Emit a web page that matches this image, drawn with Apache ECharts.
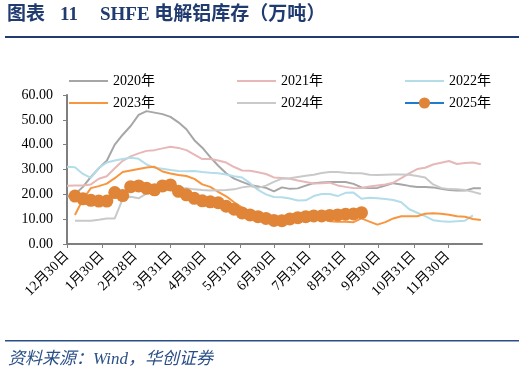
<!DOCTYPE html>
<html>
<head>
<meta charset="utf-8">
<script src="https://cdn.jsdelivr.net/npm/echarts@6/dist/echarts.min.js"></script>
<style>
  html, body { margin: 0; padding: 0; background: #fff; }
  #main { width: 524px; height: 376px; }
</style>
</head>
<body>
<div id="main"></div>
<script>
// x轴刻度（距12月30日的天数）
var tickDays = [0, 31, 60, 91, 121, 152, 182, 213, 244, 274, 305, 335];
var tickLabels = ["12月30日", "1月30日", "2月28日", "3月31日", "4月30日", "5月31日",
  "6月30日", "7月31日", "8月31日", "9月30日", "10月31日", "11月30日"];
var yTicks = [0, 10, 20, 30, 40, 50, 60];

// 周度数据，第i个点位于第 7*i 天
var y2020 = [19, 20, 23, 27, 30.5, 33.5, 40, 44, 47.5, 52, 53.5, 52.9, 52.3, 51.2, 49, 46.2, 41.8, 38.8, 35, 31.5,
  28.5, 26.3, 25, 23.8, 23.2, 22.6, 21.2, 22.8, 22.2, 22.4, 23.5, 24.5, 24.8, 25, 25, 25, 24.2, 22.8, 22.5, 22.6,
  23.5, 24.5, 24, 23.4, 23, 23, 22.8, 22.2, 21.7, 21.5, 21.5, 22.4, 22.4];
var y2021 = [23.5, 23.6, 23.6, 24, 26.3, 27.3, 30.5, 33.5, 35.3, 36.5, 37.5, 37.8, 38.5, 39.2, 38.7, 37.8, 36, 34.2, 34.2, 33.6,
  32.8, 31, 29.6, 29.5, 28.9, 28.2, 26.8, 26.6, 26.3, 25.6, 25, 24.4, 24.5, 24.7, 23.6, 23, 22.5, 22.6, 23.2, 23.6,
  24, 24.7, 26.5, 28.4, 30.2, 30.7, 32, 32.7, 33.4, 32.2, 32.6, 32.8, 32.1];
var y2022 = [31.1, 30.9, 28.2, 26.6, 30.7, 32.8, 33.6, 34.2, 34.7, 34.3, 32, 30.7, 30.3, 29.8, 29.4, 29.3, 29.4, 29, 28.7, 28.5,
  28, 27.3, 26.8, 24.5, 21.8, 20, 18.9, 18.8, 18.3, 17.5, 17.6, 19.3, 20.1, 20.1, 19.3, 20.6, 20.7, 18.2, 18.6, 18.4,
  18.1, 17.7, 16.8, 14, 12.6, 11.2, 9.6, 9.2, 9, 9.2, 9.4, 11.5, null];
var y2023 = [null, 11.7, 18, 22.5, 23.3, 24.3, 26.5, 29, 29.6, 30.2, 30.8, 31.1, 29.2, 28.4, 27.8, 27.4, 26.2, 24, 23, 21,
  19.2, 16.8, 14.7, 12.8, 11.4, 11, 10.9, 10.8, 10.5, 10.5, 10.3, 10.4, 10.1, 9.2, 9, 9, 8.8, 10.3, 9, 7.8,
  8.8, 10.3, 11.2, 11.2, 11.2, 12.2, 12.4, 12.2, 11.8, 11.2, 11, 10.1, 9.7];
var y2024 = [null, 9.4, 9.4, 9.4, 9.8, 10.3, 10.3, 18.2, 19, 18.4, 20.4, 20.8, 21.5, 21.8, 22.3, 22.5, 22, 21.7, 21.5, 21.6,
  21.7, 22, 22.8, 23.3, 22.6, 23.5, 25, 26.3, 26.5, 27, 27.5, 27.9, 28.6, 29, 29, 28.7, 28.5, 28.5, 27.9, 27.8,
  27.9, 28, 28, 27.9, 27.4, 26.8, 24, 22.6, 22.1, 22, 21.7, 21, 20.1];
var y2025 = [null, 19.3, 18.2, 17.6, 17.3, 17.3, 20.7, 19.5, 23.1, 23.4, 22.4, 21.8, 23.4, 23.8, 21.2, 19.8, 18.4, 17.4, 17.0, 16.6,
  15.2, 14.0, 12.5, 11.7, 11.0, 10.3, 9.5, 9.4, 10.1, 10.6, 11.0, 11.3, 11.3, 11.5, 11.7, 12.0, 12.1, 12.6];

var serif = "'Times New Roman', 'Liberation Serif', 'Noto Sans CJK SC', serif";
var days = [];
for (var d = 0; d <= 365; d++) days.push(String(d));

function weekly(arr) {
  var out = [];
  for (var i = 0; i < arr.length; i++) {
    if (arr[i] !== null) out.push([7 * i, arr[i]]);
  }
  return out;
}
function isTick(idx) {
  return tickDays.indexOf(idx) >= 0;
}
function lineSeries(name, arr, color) {
  return {
    name: name,
    type: "line",
    data: weekly(arr),
    symbol: "none",
    lineStyle: { color: color, width: 2 },
    itemStyle: { color: color },
    emphasis: { disabled: true }
  };
}
// 普通折线的图例只画线，不画圆点
function lineItem(name) {
  return { name: name, itemStyle: { opacity: 0 } };
}

var myChart = echarts.init(document.getElementById("main"));
var legendBase = {
  left: 63,
  itemWidth: 39,
  itemHeight: 14,
  itemGap: 81,
  textStyle: { fontFamily: serif, fontSize: 14, color: "#000" }
};
var titleFont = "bold 19px " + serif;
var option = {
  animation: false,
  graphic: [
    { type: "text", left: 7, top: 6, style: { text: "图表", fill: "#1F3B70", font: titleFont } },
    { type: "text", left: 60, top: 6, style: { text: "11", fill: "#1F3B70", font: titleFont } },
    { type: "text", left: 100, top: 6, style: { text: "SHFE 电解铝库存（万吨）", fill: "#1F3B70", font: titleFont } },
    { type: "rect", shape: { x: 5, y: 36, width: 514, height: 2 }, style: { fill: "#1F3B70" } },
    { type: "rect", shape: { x: 5, y: 340, width: 514, height: 1.5 }, style: { fill: "#2A4F86" } },
    {
      type: "text", left: 8, top: 351,
      style: { text: "资料来源：Wind，华创证券", fill: "#2A4F86",
        font: "italic 17px " + serif }
    }
  ],
  legend: [
    Object.assign({ top: 69, data: ["2020年", "2021年", "2022年"].map(lineItem) }, legendBase),
    Object.assign({ top: 91, data: [lineItem("2023年"), lineItem("2024年"), "2025年"] }, legendBase)
  ],
  grid: { left: 67, right: 42, top: 95, bottom: 132 },
  xAxis: {
    type: "category",
    data: days,
    boundaryGap: false,
    axisLine: { lineStyle: { color: "#7F7F7F", width: 2 } },
    axisTick: { interval: isTick, length: 4, lineStyle: { color: "#7F7F7F" } },
    axisLabel: {
      interval: isTick,
      rotate: 45,
      margin: 10,
      color: "#000",
      fontFamily: serif,
      fontSize: 14,
      formatter: function (val) {
        return tickLabels[tickDays.indexOf(Number(val))];
      }
    },
    splitLine: { show: false }
  },
  yAxis: {
    type: "value",
    min: yTicks[0],
    max: yTicks[yTicks.length - 1],
    interval: 10,
    axisLine: { show: true, lineStyle: { color: "#7F7F7F", width: 2 } },
    axisTick: { show: true, length: 4, lineStyle: { color: "#7F7F7F" } },
    axisLabel: {
      color: "#000",
      fontFamily: serif,
      fontSize: 14,
      margin: 14,
      formatter: function (v) { return v.toFixed(2); }
    },
    splitLine: { show: false }
  },
  series: [
    lineSeries("2020年", y2020, "#A6A6A6"),
    lineSeries("2021年", y2021, "#E6B8B7"),
    lineSeries("2022年", y2022, "#B4DDEA"),
    lineSeries("2023年", y2023, "#F7963F"),
    lineSeries("2024年", y2024, "#C9C9C9"),
    {
      name: "2025年",
      type: "line",
      data: weekly(y2025),
      symbol: "circle",
      symbolSize: 13,
      showAllSymbol: true,
      lineStyle: { color: "#1F7BD1", width: 2 },
      itemStyle: { color: "#E08538" },
      emphasis: { disabled: true },
      z: 5
    }
  ]
};
myChart.setOption(option, true);
</script>
</body>
</html>
